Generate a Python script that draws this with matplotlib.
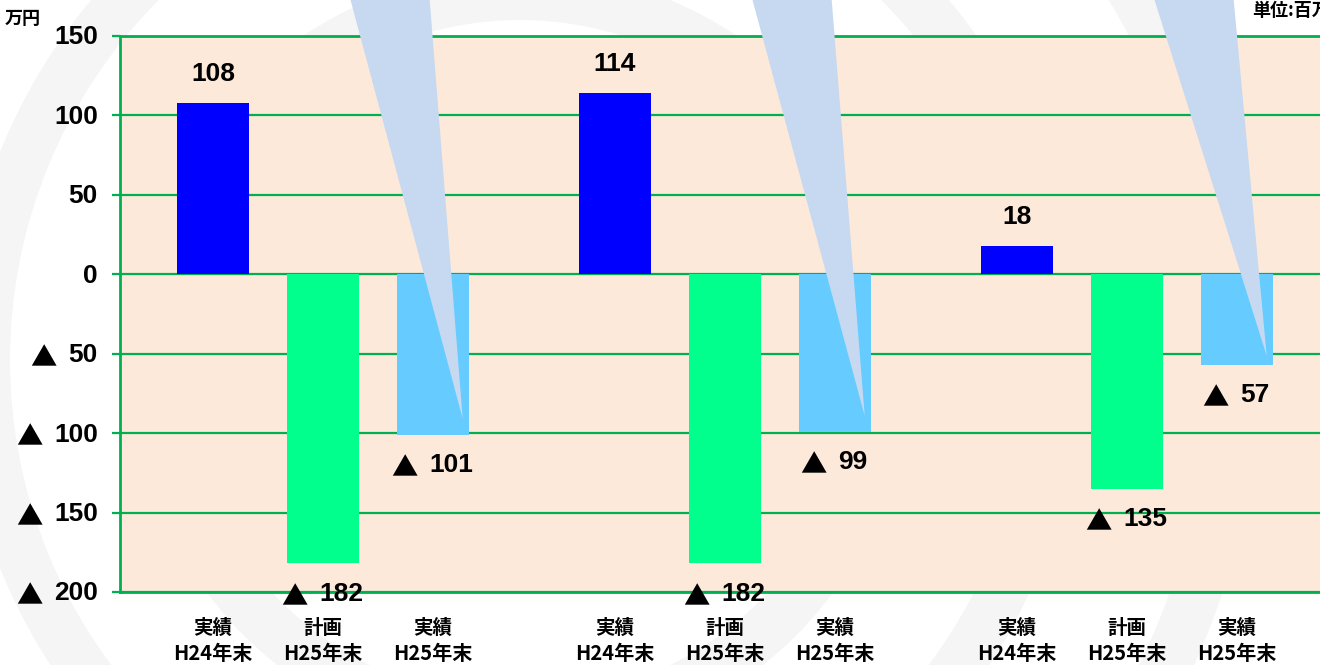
import matplotlib
matplotlib.use('Agg')
import matplotlib.pyplot as plt
from matplotlib.patches import Wedge, Polygon
from matplotlib.transforms import IdentityTransform, blended_transform_factory

# data
groups = 3
cats_top = ['実績', '計画', '実績']
cats_bottom = ['H24年末', 'H25年末', 'H25年末']
actual_h24 = [108, 114, 18]
plan_h25 = [-182, -182, -135]
actual_h25 = [-101, -99, -57]
yticks = [150, 100, 50, 0, -50, -100, -150, -200]

blue = '#0000FF'
green = '#00FF8C'
lblue = '#66CCFF'
callout = '#C6D9F0'
grid_green = '#00B050'
bg = '#FDE9DA'

jp = ['Noto Sans CJK JP', 'DejaVu Sans']
num = ['Liberation Sans', 'DejaVu Sans']
fs = 19

fig = plt.figure(figsize=(13.2, 6.65), dpi=100)

# faint decorative rings behind everything
for r in [390, 560, 740]:
    fig.add_artist(Wedge((520, 665 - 360), r, 0, 360, width=50,
                         facecolor='#F5F5F5', edgecolor='none',
                         transform=IdentityTransform(), zorder=0))

ax = fig.add_axes([120 / 1320, 1 - 592 / 665, 1 - 120 / 1320, (592 - 36) / 665])
ax.set_facecolor(bg)
ax.set_zorder(1)


def add_tri(txt):
    # big black triangle (negative sign) to the left of a number text
    ax.annotate('▲', xy=(0, 0.5), xycoords=txt, xytext=(-8.5, -2.5),
                textcoords='offset points', ha='right', va='center',
                fontsize=fs, family=jp, fontweight='bold', zorder=6,
                annotation_clip=False)


step = 402 / 110
w = 72 / 110
series = [(actual_h24, blue), (plan_h25, green), (actual_h25, lblue)]
for i, (vals, col) in enumerate(series):
    xs = [g * step + i for g in range(groups)]
    ax.bar(xs, vals, width=w, color=col, zorder=3)
    for x, v in zip(xs, vals):
        if v >= 0:
            ax.annotate(str(v), (x, v), xytext=(0, 21), textcoords='offset points',
                        ha='center', va='center', fontsize=fs, fontweight='bold',
                        family=num, zorder=6, annotation_clip=False)
        else:
            t = ax.annotate(str(-v), (x, v), xytext=(13, -22), textcoords='offset points',
                            ha='center', va='center', fontsize=fs, fontweight='bold',
                            family=num, zorder=6, annotation_clip=False)
            add_tri(t)

# callout wedges pointing into the H25 actual bars
y_img_top = 150 + 36 / (556 / 350)
for g in range(groups):
    v = actual_h25[g]
    tx = g * step + 2 + 0.27
    ty = v * 0.9
    top = 200
    k = (top - ty) / (y_img_top - ty)
    poly = Polygon([(tx, ty), (tx - 0.30 * k, top), (tx - 1.02 * k, top)],
                   closed=True, facecolor=callout, edgecolor='none',
                   zorder=5, clip_on=False)
    ax.add_patch(poly)

ax.set_ylim(-200, 150)
ax.set_xlim(-93 / 110, (1320 - 213) / 110)
ax.set_yticks(yticks)
ax.set_yticklabels([])
ax.set_xticks([])
ax.yaxis.grid(True, color=grid_green, linewidth=1.6, zorder=1)
ax.set_axisbelow(True)
for s in ['top', 'bottom', 'left']:
    ax.spines[s].set_color(grid_green)
    ax.spines[s].set_linewidth(2)
ax.spines['right'].set_visible(False)
ax.tick_params(axis='y', colors=grid_green, length=6, width=1.6)

# y tick labels drawn by hand so the triangle can be large
ytr = blended_transform_factory(ax.transAxes, ax.transData)
for v in yticks:
    t = ax.annotate(str(abs(v)), (0, v), xycoords=ytr, xytext=(-16, -1),
                    textcoords='offset points', ha='right', va='center',
                    fontsize=fs, fontweight='bold', family=num,
                    annotation_clip=False)
    if v < 0:
        add_tri(t)

# category labels, two lines under each bar
px = 556 / 350
for g in range(groups):
    for i in range(3):
        x = g * step + i
        ax.text(x, -200 - 36 / px, cats_top[i], ha='center', va='center',
                fontsize=14, fontweight='bold', family=jp, clip_on=False)
        ax.text(x, -200 - 61 / px, cats_bottom[i], ha='center', va='center',
                fontsize=14.5, fontweight='bold', family=jp, clip_on=False)

fig.text(5 / 1320, 1 - 19 / 665, '万円', ha='left', va='center',
         fontsize=13, fontweight='bold', family=jp)
fig.text(1252 / 1320, 1 - 11 / 665, '単位:百万円', ha='left', va='center',
         fontsize=13, fontweight='bold', family=jp)

fig.savefig('out.png', dpi=100, facecolor='white')
